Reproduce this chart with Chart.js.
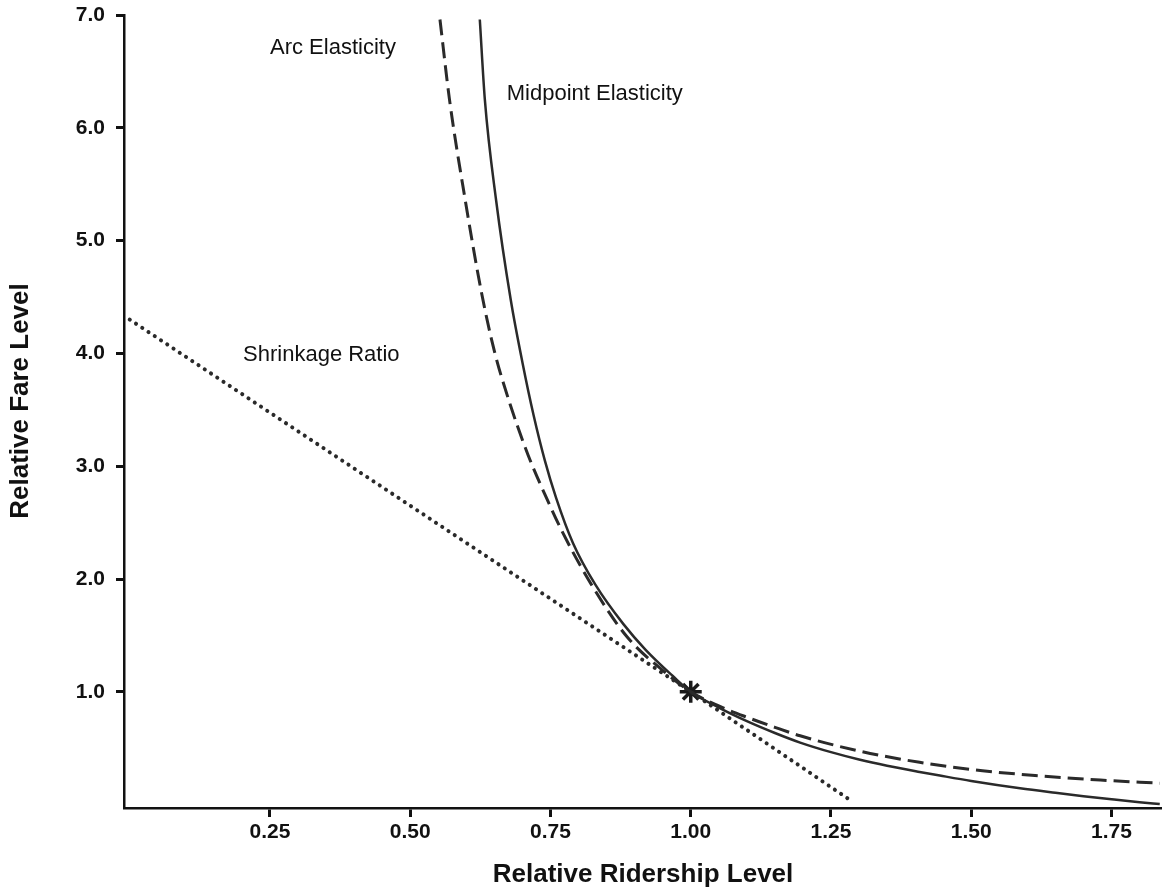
<!DOCTYPE html>
<html>
<head>
<meta charset="utf-8">
<script src="https://cdn.jsdelivr.net/npm/chart.js@4"></script>
<style>
  html, body { margin: 0; padding: 0; background: #fff; }
  #wrap { width: 1162px; height: 894px; position: relative; }
</style>
</head>
<body>
<div id="wrap"><canvas id="fareChart"></canvas></div>
<script>
// values
const midpointX = [0.624, 0.633, 0.653, 0.679, 0.70, 0.72, 0.74, 0.76, 0.79, 0.83, 0.88, 0.92, 0.968, 1.0, 1.05, 1.10, 1.15, 1.195, 1.25, 1.30, 1.35, 1.408, 1.444, 1.50, 1.587, 1.65, 1.70, 1.75, 1.80, 1.836];
const midpointY = [6.96, 6.25, 5.36, 4.48, 3.92, 3.45, 3.05, 2.72, 2.32, 1.95, 1.60, 1.37, 1.14, 1.0, 0.86, 0.74, 0.635, 0.55, 0.465, 0.40, 0.345, 0.29, 0.258, 0.21, 0.145, 0.105, 0.075, 0.048, 0.022, 0.005];

const arcX = [0.553, 0.570, 0.598, 0.627, 0.650, 0.678, 0.710, 0.740, 0.773, 0.823, 0.886, 0.95, 1.0, 1.05, 1.10, 1.15, 1.195, 1.30, 1.408, 1.52, 1.622, 1.73, 1.836];
const arcY = [6.96, 6.25, 5.36, 4.54, 4.02, 3.55, 3.10, 2.75, 2.40, 1.95, 1.49, 1.19, 1.0, 0.875, 0.775, 0.685, 0.61, 0.475, 0.375, 0.30, 0.255, 0.218, 0.19];

const shrinkX = [0.0, 1.0, 1.287];
const shrinkY = [4.30, 1.0, 0.03];

const baseX = [1.0];
const baseY = [1.0];

const xTicks = [0.25, 0.50, 0.75, 1.00, 1.25, 1.50, 1.75];
const yTicks = [1.0, 2.0, 3.0, 4.0, 5.0, 6.0, 7.0];

const curveLabels = [
  { text: 'Arc Elasticity', x: 0.25, y: 6.71 },
  { text: 'Midpoint Elasticity', x: 0.672, y: 6.30 },
  { text: 'Shrinkage Ratio', x: 0.202, y: 3.99 }
];

const toPoints = (xs, ys) => xs.map((x, i) => ({ x: x, y: ys[i] }));

const FONT = "'Liberation Sans', Arial, Helvetica, sans-serif";
const INK = '#2a2a2a';

// curve labels and the vertical axis title
const labelPlugin = {
  id: 'curveLabels',
  afterDatasetsDraw(chart) {
    const ctx = chart.ctx;
    const xs = chart.scales.x, ys = chart.scales.y;
    ctx.save();
    ctx.font = `22px ${FONT}`;
    ctx.fillStyle = '#111';
    ctx.textAlign = 'left';
    ctx.textBaseline = 'middle';
    curveLabels.forEach(l => {
      ctx.fillText(l.text, xs.getPixelForValue(l.x), ys.getPixelForValue(l.y));
    });
    ctx.restore();

    ctx.save();
    ctx.translate(21, 401);
    ctx.rotate(-Math.PI / 2);
    ctx.font = `bold 26px ${FONT}`;
    ctx.fillStyle = '#111';
    ctx.textAlign = 'center';
    ctx.textBaseline = 'middle';
    ctx.fillText('Relative Fare Level', 0, 0);
    ctx.restore();
  }
};

new Chart(document.getElementById('fareChart'), {
  type: 'scatter',
  data: {
    datasets: [
      {
        label: 'Midpoint Elasticity',
        data: toPoints(midpointX, midpointY),
        showLine: true,
        borderColor: INK,
        borderWidth: 2.5,
        pointRadius: 0,
        cubicInterpolationMode: 'monotone'
      },
      {
        label: 'Arc Elasticity',
        data: toPoints(arcX, arcY),
        showLine: true,
        borderColor: INK,
        borderWidth: 3,
        borderDash: [16, 7],
        pointRadius: 0,
        cubicInterpolationMode: 'monotone'
      },
      {
        label: 'Shrinkage Ratio',
        data: toPoints(shrinkX, shrinkY),
        showLine: true,
        borderColor: INK,
        borderWidth: 4,
        borderDash: [0.1, 7.4],
        borderCapStyle: 'round',
        pointRadius: 0
      },
      {
        label: 'Base',
        data: toPoints(baseX, baseY),
        showLine: false,
        pointStyle: 'star',
        pointRadius: 11,
        pointBorderWidth: 3.5,
        pointBorderColor: '#1a1a1a',
        pointBackgroundColor: '#1a1a1a'
      }
    ]
  },
  options: {
    responsive: true,
    maintainAspectRatio: false,
    animation: false,
    layout: { autoPadding: false, padding: { top: 15, right: 0, left: 0, bottom: 0 } },
    plugins: {
      legend: { display: false },
      tooltip: { enabled: false }
    },
    scales: {
      x: {
        type: 'linear',
        min: -0.0102,
        max: 1.84,
        afterBuildTicks: s => { s.ticks = xTicks.map(v => ({ value: v })); },
        afterFit: s => { s.height = 86; s.paddingLeft = 0; s.paddingRight = 0; },
        ticks: {
          callback: v => v.toFixed(2),
          color: '#111',
          font: { family: FONT, size: 21, weight: 'bold' },
          padding: 3,
          maxRotation: 0
        },
        grid: {
          drawOnChartArea: false,
          drawTicks: true,
          tickLength: 9,
          tickWidth: 3,
          tickColor: '#111'
        },
        border: { display: true, color: '#111', width: 2.5 },
        title: {
          display: true,
          text: 'Relative Ridership Level',
          color: '#111',
          font: { family: FONT, size: 26, weight: 'bold' },
          padding: { top: 0, bottom: 4 }
        }
      },
      y: {
        type: 'linear',
        min: -0.03,
        max: 7.0,
        afterBuildTicks: s => { s.ticks = yTicks.map(v => ({ value: v })); },
        afterFit: s => { s.width = 124; s.paddingTop = 0; s.paddingBottom = 0; },
        ticks: {
          callback: v => v.toFixed(1),
          color: '#111',
          font: { family: FONT, size: 21, weight: 'bold' },
          padding: 11
        },
        grid: {
          drawOnChartArea: false,
          drawTicks: true,
          tickLength: 8,
          tickWidth: 3,
          tickColor: '#111'
        },
        border: { display: true, color: '#111', width: 2.5 },
        title: { display: false }
      }
    }
  },
  plugins: [labelPlugin]
});
</script>
</body>
</html>
